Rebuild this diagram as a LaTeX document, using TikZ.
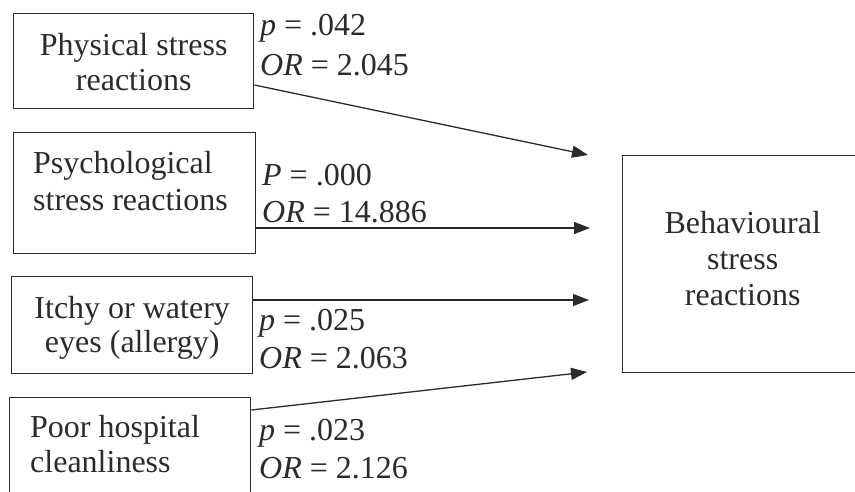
\documentclass[tikz,border=0pt]{standalone}
\usepackage{fontspec}
\setmainfont{Liberation Serif}
\usetikzlibrary{positioning,calc,arrows.meta}
\definecolor{ink}{HTML}{2B2B2B}

\begin{document}
\begin{tikzpicture}[x=1pt,y=-1pt,
  box/.style={draw=ink,line width=1.4pt,inner sep=0pt,anchor=north west},
  boxtext/.style={text=ink,inner sep=0pt,anchor=base west,align=left,
              font=\fontsize{32}{35}\selectfont},
  stat/.style={text=ink,inner sep=0pt,anchor=base west,align=left},
  link/.style={draw=ink,line width=1.3pt,-{Triangle[length=16pt,width=12pt]}}]
% Page is the reference size, anything past it is cut off
\clip (0,0) rectangle (855,491);
% Predictors on the left
\node[box,minimum width=240pt,minimum height=95pt] (phys) at (13,13) {};
\node[box,minimum width=242pt,minimum height=121pt] (psych) at (13,132) {};
\node[box,minimum width=241pt,minimum height=97pt] (eyes) at (11,276) {};
\node[box,minimum width=241pt,minimum height=110pt] (clean) at (9,397) {};
% Outcome on the right, runs off the page
\node[box,minimum width=240pt,minimum height=217pt] (behav) at (622,155) {};
% Box texts, anchored on their last baseline
\node[boxtext,anchor=base,align=center] (physT) at ($(phys.north)+(0,77)$) {Physical stress\\reactions};
\node[boxtext,font=\fontsize{32}{37}\selectfont] (psychT) at ($(psych.north west)+(20,78)$) {Psychological\\stress reactions};
\node[boxtext,anchor=base,align=center,font=\fontsize{32}{34}\selectfont] (eyesT) at ($(eyes.north)+(0,76)$) {Itchy or watery\\eyes (allergy)};
\node[boxtext] (cleanT) at ($(clean.north west)+(21,75)$) {Poor hospital\\cleanliness};
\node[boxtext,anchor=base,align=center,font=\fontsize{32}{36}\selectfont] (behavT) at ($(behav.north)+(0,150)$) {Behavioural\\stress\\reactions};
% Arrow tips stop short of the outcome box
\coordinate (e1) at (588,155);
\coordinate (e2) at (590,228);
\coordinate (e3) at (589,300);
\coordinate (e4) at (587,372);
\draw[link] ($(phys.north east)+(0,72)$) -- (e1);
\draw[link] ($(psych.north east)+(0,96)$) -- (e2);
\draw[link] ($(eyes.north east)+(0,24)$) -- (e3);
\draw[link] ($(clean.north east)+(0,13)$) -- (e4);
% Statistics next to each predictor (anchored on the OR line)
\node[stat,font=\fontsize{32}{40}\selectfont] (s1) at (260,75) {\textit{p} = .042\\\textit{OR} = 2.045};
\node[stat,font=\fontsize{32}{37}\selectfont] (s2) at (262,222) {\textit{P} = .000\\\textit{OR} = 14.886};
\node[stat,font=\fontsize{32}{38}\selectfont] (s3) at (259,368) {\textit{p} = .025\\\textit{OR} = 2.063};
\node[stat,font=\fontsize{32}{38}\selectfont] (s4) at (259,478) {\textit{p} = .023\\\textit{OR} = 2.126};
\end{tikzpicture}
\end{document}
